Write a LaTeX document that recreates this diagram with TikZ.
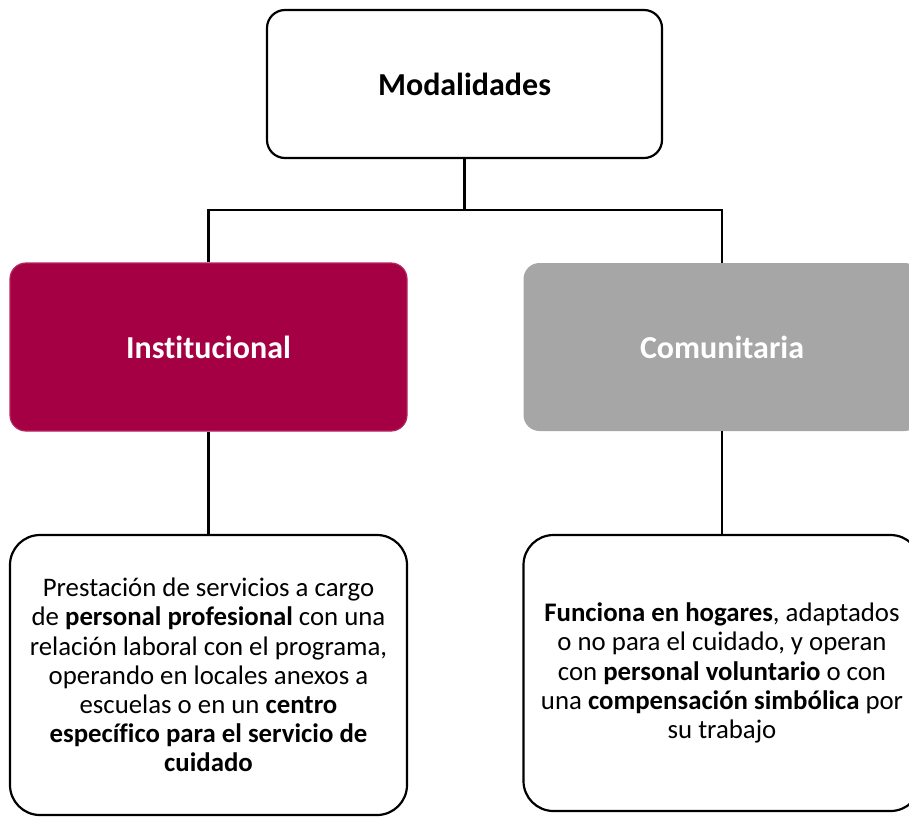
\documentclass[tikz,border=0pt]{standalone}
\usepackage{fontspec}
\setmainfont{Carlito}[Ligatures=NoCommon]
\definecolor{instred}{RGB}{166,0,68}
\definecolor{comugray}{RGB}{166,166,166}

\begin{document}
\begin{tikzpicture}[x=0.5pt,y=-0.5pt,
    whitebox/.style={rectangle, draw=black, line width=1.1pt, fill=white, align=center},
    colorbox/.style={rectangle, rounded corners=8pt, minimum width=198.5pt, minimum height=84pt,
      text=white, font=\fontsize{16}{19}\selectfont\bfseries},
    infobox/.style={whitebox, rounded corners=15pt, minimum width=198.5pt,
      font=\fontsize{13.4}{14.6}\selectfont},
    link/.style={line width=1.2pt, draw=black}]
      \useasboundingbox (0,0) rectangle (909,816);

      \node[whitebox, rounded corners=9pt, minimum width=197.5pt, minimum height=74pt,
        font=\fontsize{16}{19}\selectfont\bfseries](top) at (464.5,84){Modalidades};

      \node[colorbox, fill=instred, draw=instred!85!white, line width=0.6pt](inst) at (208.5,347){Institucional};
      \node[colorbox, fill=comugray](comu) at (722,347){Comunitaria};

      \node[infobox, minimum height=140pt](instinfo) at (208.5,675){Prestación de servicios a cargo\\
        de \textbf{personal profesional} con una\\
        relación laboral con el programa,\\
        operando en locales anexos a\\
        escuelas o en un \textbf{centro}\\
        \textbf{específico para el servicio de}\\
        \textbf{cuidado}};
      \node[infobox, minimum height=138pt](comuinfo) at (722,673){\textbf{Funciona en hogares}, adaptados\\
        o no para el cuidado, y operan\\
        con \textbf{personal voluntario} o con\\
        una \textbf{compensación simbólica} por\\
        su trabajo};

      \coordinate(bus) at (464.5,210);
      %
      \draw[link] (top.south) -- (bus);
      \draw[link] (inst.north) |- (bus) -| (comu.north);
      \draw[link] (inst.south) -- (instinfo.north);
      \draw[link] (comu.south) -- (comuinfo.north);

    \end{tikzpicture}
\end{document}
